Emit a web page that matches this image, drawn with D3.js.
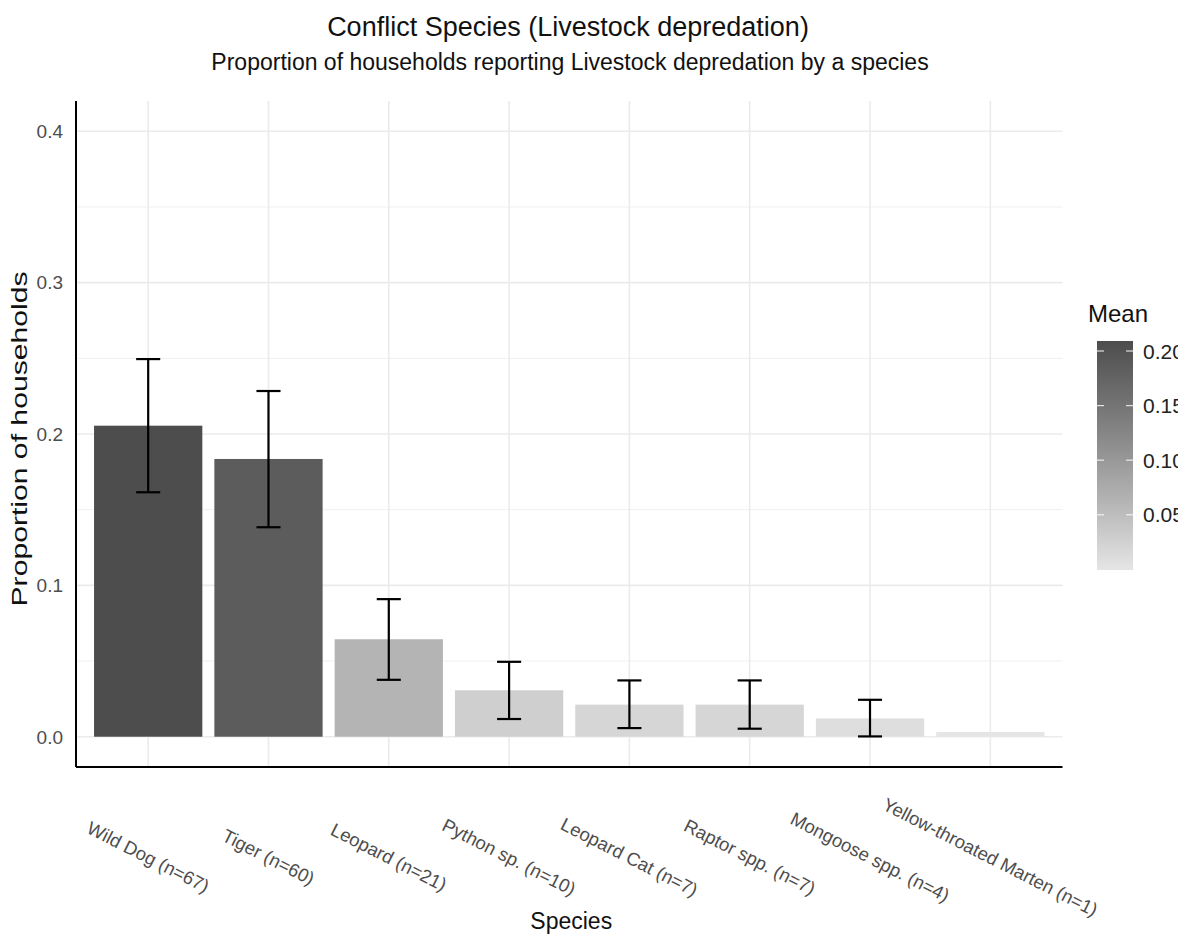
<!DOCTYPE html>
<html lang="en">
<head>
    <meta charset="UTF-8">
    <title>Conflict Species (Livestock depredation)</title>
    <style>
        body { margin: 0; background: #fff; overflow: hidden; }
        svg { display: block; font-family: "Liberation Sans", Arial, sans-serif; }
    </style>
    <script src="https://d3js.org/d3.v7.min.js"></script>
</head>
<body>
    <div id="chart"></div>
    <script>
        // Data
        const species = ["Wild Dog", "Tiger", "Leopard", "Python sp.", "Leopard Cat",
                         "Raptor spp.", "Mongoose spp.", "Yellow-throated Marten"];
        const nObs = [67, 60, 21, 10, 7, 7, 4, 1];
        const meanValues = [0.2055, 0.1835, 0.0644, 0.0307, 0.0212, 0.0212, 0.0121, 0.0031];
        const lowerValues = [0.1615, 0.1384, 0.0376, 0.0117, 0.0057, 0.0053, 0.0002, null];
        const upperValues = [0.2495, 0.2284, 0.0909, 0.0495, 0.0372, 0.0372, 0.0244, null];
        const yTicks = [0, 0.1, 0.2, 0.3, 0.4];
        const yMinorTicks = [0.05, 0.15, 0.25, 0.35];
        const legendTicks = [0.05, 0.10, 0.15, 0.20];

        const data = species.map((s, i) => ({
            label: `${s} (n=${nObs[i]})`,
            mean: meanValues[i],
            lo: lowerValues[i],
            hi: upperValues[i]
        }));

        const width = 1178, height = 947;
        const panel = { left: 76, right: 1062.5, top: 101, bottom: 767 };

        const svg = d3.select("#chart").append("svg")
            .attr("width", width)
            .attr("height", height);

        const x = d3.scaleBand()
            .domain(data.map(d => d.label))
            .range([panel.left, panel.right])
            .paddingInner(0.1)
            .paddingOuter(0.15);

        // ggplot-style 5% expansion around [0, 0.4]
        const y = d3.scaleLinear()
            .domain([-0.02, 0.42])
            .range([panel.bottom, panel.top]);

        const meanExtent = d3.extent(meanValues);
        const fill = d3.scaleLinear()
            .domain(meanExtent)
            .range(["#e5e5e5", "#4d4d4d"])
            .interpolate(d3.interpolateLab);

        // grid
        const grid = svg.append("g");
        grid.selectAll(".minor").data(yMinorTicks).enter().append("line")
            .attr("x1", panel.left).attr("x2", panel.right)
            .attr("y1", d => y(d)).attr("y2", d => y(d))
            .attr("stroke", "#f0f0f0").attr("stroke-width", 1);
        grid.selectAll(".major").data(yTicks).enter().append("line")
            .attr("x1", panel.left).attr("x2", panel.right)
            .attr("y1", d => y(d)).attr("y2", d => y(d))
            .attr("stroke", "#ebebeb").attr("stroke-width", 1.6);
        grid.selectAll(".vert").data(data).enter().append("line")
            .attr("x1", d => x(d.label) + x.bandwidth() / 2)
            .attr("x2", d => x(d.label) + x.bandwidth() / 2)
            .attr("y1", panel.top).attr("y2", panel.bottom)
            .attr("stroke", "#ebebeb").attr("stroke-width", 1.6);

        // bars
        svg.append("g").selectAll("rect").data(data).enter().append("rect")
            .attr("x", d => x(d.label))
            .attr("width", x.bandwidth())
            .attr("y", d => y(d.mean))
            .attr("height", d => y(0) - y(d.mean))
            .attr("fill", d => fill(d.mean));

        // error bars
        const capW = x.step() * 0.2;
        const eb = svg.append("g").attr("stroke", "#000").attr("stroke-width", 2.2)
            .selectAll("g").data(data.filter(d => d.lo !== null)).enter().append("g");
        eb.append("line")
            .attr("x1", d => x(d.label) + x.bandwidth() / 2)
            .attr("x2", d => x(d.label) + x.bandwidth() / 2)
            .attr("y1", d => y(d.lo)).attr("y2", d => y(d.hi));
        eb.append("line")
            .attr("x1", d => x(d.label) + x.bandwidth() / 2 - capW / 2)
            .attr("x2", d => x(d.label) + x.bandwidth() / 2 + capW / 2)
            .attr("y1", d => y(d.hi)).attr("y2", d => y(d.hi));
        eb.append("line")
            .attr("x1", d => x(d.label) + x.bandwidth() / 2 - capW / 2)
            .attr("x2", d => x(d.label) + x.bandwidth() / 2 + capW / 2)
            .attr("y1", d => y(d.lo)).attr("y2", d => y(d.lo));

        // axis lines
        svg.append("line")
            .attr("x1", panel.left).attr("x2", panel.left)
            .attr("y1", panel.top).attr("y2", panel.bottom)
            .attr("stroke", "#000").attr("stroke-width", 2);
        svg.append("line")
            .attr("x1", panel.left).attr("x2", panel.right)
            .attr("y1", panel.bottom).attr("y2", panel.bottom)
            .attr("stroke", "#000").attr("stroke-width", 2);

        // y tick labels
        svg.append("g").selectAll("text").data(yTicks).enter().append("text")
            .attr("x", 63)
            .attr("y", d => y(d))
            .attr("dy", "0.36em")
            .attr("text-anchor", "end")
            .attr("font-size", 19)
            .attr("fill", "#4d4d4d")
            .text(d => d3.format(".1f")(d));

        // x tick labels, rotated
        svg.append("g").selectAll("text").data(data).enter().append("text")
            .attr("transform", d => `translate(${x(d.label) + x.bandwidth() / 2},857) rotate(27)`)
            .attr("text-anchor", "middle")
            .attr("dy", "0.35em")
            .attr("font-size", 18.5)
            .attr("fill", "#4d4d4d")
            .text(d => d.label);

        // axis titles
        svg.append("text")
            .attr("x", (panel.left + panel.right) / 2 + 2)
            .attr("y", 929)
            .attr("text-anchor", "middle")
            .attr("font-size", 23)
            .attr("fill", "#111")
            .text("Species");

        svg.append("text")
            .attr("transform", `translate(27,${(panel.top + panel.bottom) / 2 + 5}) rotate(-90)`)
            .attr("text-anchor", "middle")
            .attr("font-size", 22)
            .attr("fill", "#111")
            .attr("textLength", 335)
            .attr("lengthAdjust", "spacingAndGlyphs")
            .text("Proportion of households");

        // titles
        svg.append("text")
            .attr("x", 568).attr("y", 36)
            .attr("text-anchor", "middle")
            .attr("font-size", 27)
            .attr("fill", "#111")
            .text("Conflict Species (Livestock depredation)");
        svg.append("text")
            .attr("x", 570).attr("y", 70)
            .attr("text-anchor", "middle")
            .attr("font-size", 23)
            .attr("fill", "#111")
            .text("Proportion of households reporting Livestock depredation by a species");

        // colour legend
        const legendX = 1097, legendW = 36;
        const ly = d3.scaleLinear().domain(meanExtent).range([566, 345]);

        const defs = svg.append("defs");
        const grad = defs.append("linearGradient")
            .attr("id", "meanGrad")
            .attr("x1", 0).attr("x2", 0).attr("y1", 1).attr("y2", 0);
        d3.range(0, 1.0001, 0.1).forEach(t => {
            grad.append("stop")
                .attr("offset", t)
                .attr("stop-color", fill(meanExtent[0] + t * (meanExtent[1] - meanExtent[0])));
        });

        svg.append("text")
            .attr("x", legendX - 9).attr("y", 322)
            .attr("font-size", 24)
            .attr("fill", "#111")
            .text("Mean");

        svg.append("rect")
            .attr("x", legendX).attr("y", 341)
            .attr("width", legendW).attr("height", 570 - 341)
            .attr("fill", "url(#meanGrad)");

        const lt = svg.append("g").selectAll("g").data(legendTicks).enter().append("g");
        lt.append("line")
            .attr("x1", legendX).attr("x2", legendX + 7)
            .attr("y1", d => ly(d)).attr("y2", d => ly(d))
            .attr("stroke", "#fff").attr("stroke-opacity", 0.8).attr("stroke-width", 1.2);
        lt.append("line")
            .attr("x1", legendX + legendW - 7).attr("x2", legendX + legendW)
            .attr("y1", d => ly(d)).attr("y2", d => ly(d))
            .attr("stroke", "#fff").attr("stroke-opacity", 0.8).attr("stroke-width", 1.2);
        lt.append("text")
            .attr("x", legendX + legendW + 10)
            .attr("y", d => ly(d))
            .attr("dy", "0.36em")
            .attr("font-size", 21)
            .attr("fill", "#222")
            .text(d => d3.format(".2f")(d));
    </script>
</body>
</html>
